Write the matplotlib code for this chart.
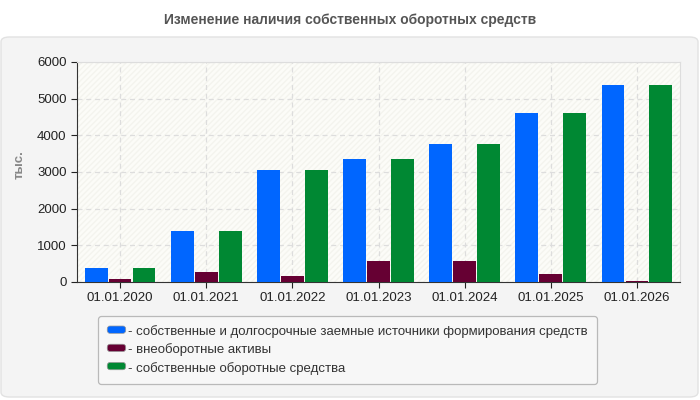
import numpy as np
import matplotlib
matplotlib.use("Agg")
import matplotlib.pyplot as plt
from matplotlib.patches import FancyBboxPatch, Rectangle, Patch
from matplotlib.legend_handler import HandlerPatch

plt.rcParams['font.family'] = ['Liberation Sans', 'DejaVu Sans']

dates = ['01.01.2020', '01.01.2021', '01.01.2022', '01.01.2023',
         '01.01.2024', '01.01.2025', '01.01.2026']
sources = [380, 1390, 3055, 3355, 3765, 4610, 5375]
noncurrent = [90, 280, 165, 580, 580, 220, 35]
working = [380, 1390, 3055, 3355, 3765, 4610, 5375]

labels = ['- собственные и долгосрочные заемные источники формирования средств',
          '- внеоборотные активы',
          '- собственные оборотные средства']
colors = ['#0066ff', '#660033', '#008833']

W, H = 700, 400
fig = plt.figure(figsize=(7, 4), dpi=100, facecolor='white')

# grey panel behind everything
panel = FancyBboxPatch((1 / W, 3 / H), 697 / W, 360 / H,
                       boxstyle='round,pad=0,rounding_size=0.012',
                       transform=fig.transFigure, facecolor='#f4f4f4',
                       edgecolor='#e2e2e2', linewidth=1, zorder=-10)
fig.patches.append(panel)

fig.text(350 / W, 1 - 20 / H, 'Изменение наличия собственных оборотных средств',
         ha='center', va='center', fontsize=10, fontweight='bold', color='#555555')

ax = fig.add_axes([77 / W, 118 / H, 603 / W, 220 / H])
ax.set_facecolor('#fcfcf8')
ax.add_patch(Rectangle((0, 0), 1, 1, transform=ax.transAxes, facecolor='none',
                       edgecolor='#f4f4ee', hatch='//////', linewidth=0, zorder=0))

x = np.arange(len(dates))
w = 0.265
off = 0.278
for vals, c, o in zip([sources, noncurrent, working], colors, [-off, 0, off]):
    ax.bar(x + o, vals, width=w, color=c, zorder=3)

ax.set_xlim(-0.5, len(dates) - 0.5)
ax.set_ylim(0, 6000)
ax.set_yticks(np.arange(0, 6001, 1000))
ax.set_xticks(x)
ax.set_xticklabels(dates)
ax.tick_params(labelsize=9.5, colors='#222222', length=4)
ax.grid(True, color='#dddddd', linestyle=(0, (4, 3)), linewidth=0.9, zorder=1)
for s in ['top', 'right']:
    ax.spines[s].set_color('#dddddd')
for s in ['left', 'bottom']:
    ax.spines[s].set_color('#333333')

fig.text(20 / W, 1 - 165 / H, 'тыс.', rotation=90, ha='center', va='center',
         fontsize=9.5, fontweight='bold', color='#888888')


class RoundPatch(HandlerPatch):
    def create_artists(self, legend, orig, xd, yd, width, height, fontsize, trans):
        p = FancyBboxPatch((xd, yd + 1), width, height - 2,
                           boxstyle='round,pad=0,rounding_size=2',
                           facecolor=orig.get_facecolor(), edgecolor='#999999',
                           linewidth=0.5, transform=trans)
        return [p]


handles = [Patch(facecolor=c) for c in colors]
leg = fig.legend(handles, labels, loc='upper left',
                 bbox_to_anchor=(98 / W, 1 - 316 / H), fontsize=9.5,
                 frameon=True, fancybox=True, edgecolor='#aaaaaa', facecolor='#f8f8f8',
                 handlelength=1.4, handleheight=0.8, handletextpad=0.15,
                 labelspacing=0.4, borderpad=0.7, borderaxespad=0,
                 handler_map={Patch: RoundPatch()})
leg.get_frame().set_linewidth(0.9)
for t in leg.get_texts():
    t.set_color('#333333')

fig.savefig('out.png', dpi=100, facecolor='white')
